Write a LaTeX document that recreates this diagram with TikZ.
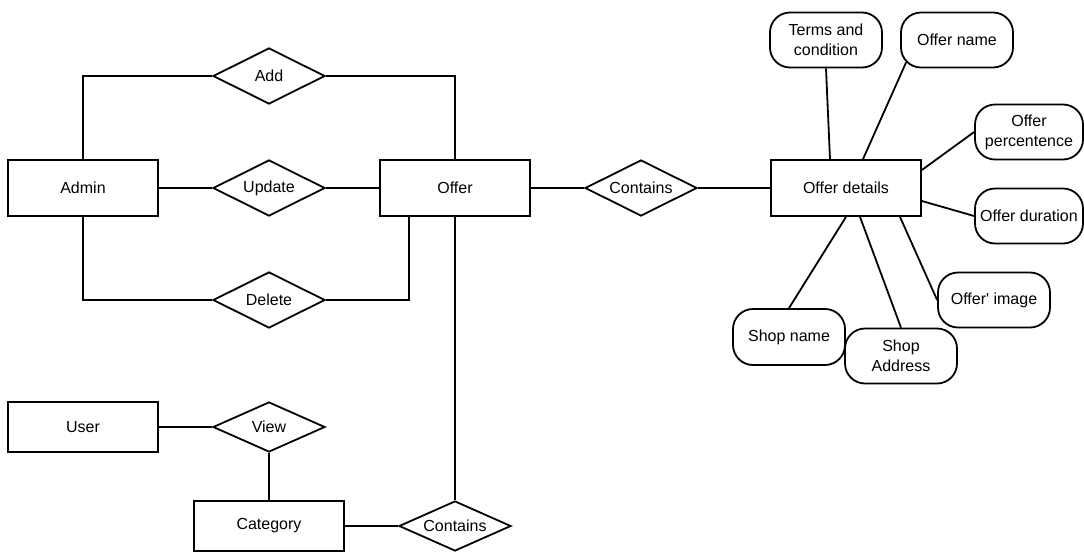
\documentclass[tikz,border=0pt]{standalone}
\usepackage{fontspec}
\setmainfont{Liberation Sans}
\usepackage{tikz}
\usetikzlibrary{shapes.geometric, positioning}

\begin{document}
\begin{tikzpicture}[
        x=1pt, y=-1pt,
        node distance=186pt,
        line width=1.8pt,
        font=\fontsize{16}{20}\selectfont,
        entity/.style={rectangle, draw, minimum width=150pt, minimum height=56pt, inner sep=2pt},
        relation/.style={diamond, draw, aspect=2, minimum width=112pt, minimum height=56pt, inner sep=0pt},
        attrib/.style={rectangle, draw, rounded corners=20pt, minimum width=112pt, minimum height=55pt, inner sep=2pt, align=center},
        line/.style={draw}
    ]
        \fill [white] (0,0) rectangle (1084,552);
        \useasboundingbox (0,0) rectangle (1084,552);

        \node [entity] (admin) at (83,188) {Admin};
        \node [relation, right of=admin] (update) {Update};
        \node [entity, right of=update] (offer) {Offer};
        \node [relation, above of=update, node distance=112pt] (add) {Add};
        \node [relation, below of=update, node distance=112pt] (delete) {Delete};
        \node [relation, right of=offer] (contains) {Contains};
        \node [entity, right of=contains, node distance=205pt] (details) {Offer details};

        \node [entity, minimum height=50pt] (user) at (83,427) {User};
        \node [relation, minimum height=50pt, right of=user] (view) {View};
        \node [entity, minimum height=50pt, below of=view, node distance=99pt] (category) {Category};
        \node [relation, minimum height=50pt, right of=category] (containscat) {Contains};

        \node [attrib] (terms) at (826,40) {Terms and\\condition};
        \node [attrib] (offername) at (957,40) {Offer name};
        \node [attrib, minimum width=108pt] (percent) at (1029,132) {Offer\\percentence};
        \node [attrib, minimum width=108pt] (duration) at (1029,216) {Offer duration};
        \node [attrib] (image) at (994,300) {Offer\textquotesingle{} image};
        \node [attrib, minimum height=56pt] (shopname) at (789,337) {Shop name};
        \node [attrib] (shopaddr) at (901,356) {Shop\\Address};

        \path [line] (admin.north) |- (add.west);
        \path [line] (add.east) -| (offer.north);
        \path [line] (admin) -- (update);
        \path [line] (update) -- (offer);
        \path [line] (admin.south) |- (delete.west);
        \path [line] (delete.east) -| ([xshift=30pt]offer.south west);
        \path [line] (offer) -- (contains);
        \path [line] (contains) -- (details);
        \path [line] (offer.south) -- (containscat.north);
        \path [line] (user) -- (view);
        \path [line] (view) -- (category);
        \path [line] (category) -- (containscat);

        \path [line] ([xshift=-16pt]details.north) -- (terms.south);
        \path [line] ([xshift=17pt]details.north) -- ([shift={(6pt,6pt)}]offername.south west);
        \path [line] ([yshift=18pt]details.east) -- (percent.west);
        \path [line] ([yshift=-13pt]details.east) -- (duration.west);
        \path [line] ([xshift=54pt]details.south) -- (image.west);
        \path [line] ([xshift=14pt]details.south) -- (shopaddr.north);
        \path [line] (details.south) -- (shopname.north);
    \end{tikzpicture}
\end{document}
